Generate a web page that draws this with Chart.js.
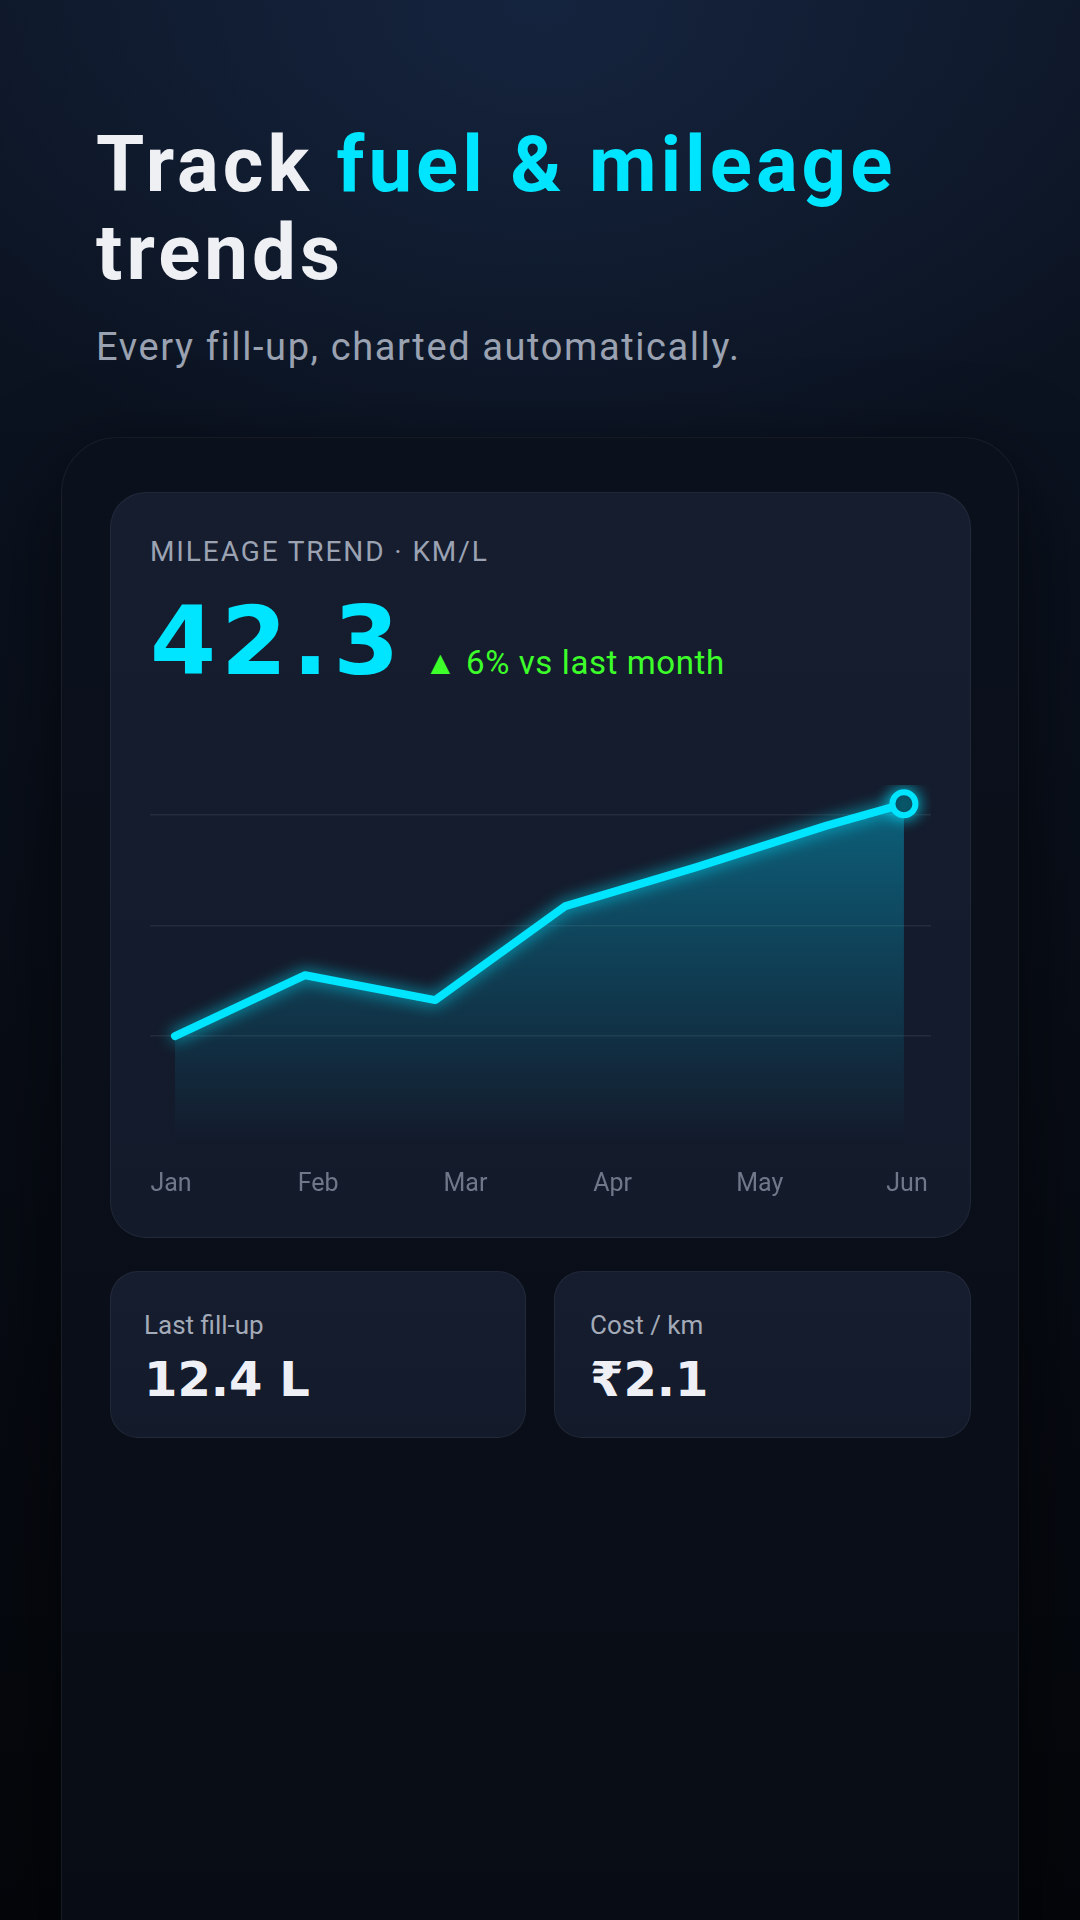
<!DOCTYPE html>
<html>
<head>
<meta charset="utf-8">
<script src="https://cdn.jsdelivr.net/npm/chart.js@4/dist/chart.umd.min.js"></script>
<style>
  html, body { margin: 0; padding: 0; }
  body {
    width: 1080px; height: 1920px; overflow: hidden; position: relative;
    font-family: Roboto, "Noto Sans", sans-serif;
    background:
      radial-gradient(ellipse 700px 520px at 50% 0%, rgba(22,38,66,0.85) 0%, rgba(22,38,66,0) 100%),
      linear-gradient(180deg, #0d1626 0%, #0a111d 30%, #070b13 65%, #04060a 100%);
  }
  .abs { position: absolute; white-space: nowrap; }
  h1 {
    position: absolute; left: 96px; top: 121px; margin: 0;
    font-size: 78px; line-height: 88px; font-weight: 700; color: #eef0f4;
    letter-spacing: 4px;
  }
  h1 span { color: #00e5ff; }
  .sub { left: 96px; top: 324px; font-size: 38px; line-height: 46px; color: #9aa2b1; letter-spacing: 1.6px; }
  .panel {
    position: absolute; left: 61px; top: 437px; width: 956px; height: 1600px;
    border-radius: 56px; border: 1px solid rgba(255,255,255,0.06);
    background: linear-gradient(180deg, #0b111c 0%, #090e18 60%, #080c14 100%);
    box-shadow: 0 30px 90px rgba(0,0,0,0.55);
  }
  .card {
    position: absolute; border-radius: 36px; border: 1px solid rgba(255,255,255,0.06);
    background: linear-gradient(180deg, #161d2f 0%, #131a2a 100%);
    box-sizing: border-box;
  }
  .label { left: 150px; top: 535px; font-size: 28px; line-height: 34px; color: #9ba3b3; letter-spacing: 1.9px; }
  .big { left: 150px; top: 591px; font-family: "DejaVu Sans", sans-serif; font-weight: 700;
         font-size: 95px; line-height: 100px; color: #00e5ff; letter-spacing: 5px; }
  .delta { left: 424px; top: 643px; font-size: 33px; line-height: 40px; color: #3dff2a; letter-spacing: 0.6px; }
  .small-label { font-size: 26px; line-height: 32px; color: #a3aab8; top: 1309px; }
  .small-value { font-family: "DejaVu Sans", sans-serif; font-weight: 700; font-size: 48px;
                 line-height: 56px; color: #eef0f5; top: 1351px; }
  #chartBox { position: absolute; left: 150px; top: 785px; width: 781px; height: 415px; }
</style>
</head>
<body>
<h1>Track <span>fuel &amp; mileage</span><br>trends</h1>
<div class="abs sub">Every fill-up, charted automatically.</div>

<div class="panel"></div>
<div class="card" style="left:110px; top:492px; width:861px; height:746px;"></div>
<div class="abs label">MILEAGE TREND · KM/L</div>
<div class="abs big">42.3</div>
<div class="abs delta">▲ 6% vs last month</div>
<div id="chartBox"><canvas id="mileage"></canvas></div>

<div class="card" style="left:110px; top:1271px; width:416px; height:167px; border-radius:28px;"></div>
<div class="card" style="left:554px; top:1271px; width:417px; height:167px; border-radius:28px;"></div>
<div class="abs small-label" style="left:144px;">Last fill-up</div>
<div class="abs small-value" style="left:144px;">12.4 L</div>
<div class="abs small-label" style="left:590px;">Cost / km</div>
<div class="abs small-value" style="left:590px;">₹2.1</div>

<script>
// Axis labels
let monthLabels = ["Jan", "Feb", "Mar", "Apr", "May", "Jun"];
let monthTicks = [0, 1, 2, 3, 4, 5];

// Fill-ups: position along the trend line and mileage (km/L)
let fillupPos = [0, 50, 100, 150, 200, 250, 280];
let mileageKmpl = [38.0, 39.1, 38.65, 40.35, 41.05, 41.8, 42.2];

// Horizontal guide lines
let gridValues = [38, 40, 42];

// Colors
let cyan = "#00e5ff";
let gridColor = "rgba(255,255,255,0.07)";
let tickColor = "#6f7789";

let points = fillupPos.map((x, i) => ({ x: x, y: mileageKmpl[i] }));
let lastIndex = points.length - 1;

// glow under the line
let glow = {
  id: "glow",
  beforeDatasetDraw(chart, args) {
    if (args.index !== 1) return;
    let ctx = chart.ctx;
    ctx.save();
    ctx.shadowColor = "rgba(0,229,255,0.8)";
    ctx.shadowBlur = 16;
  },
  afterDatasetDraw(chart, args) {
    if (args.index !== 1) return;
    chart.ctx.restore();
  }
};

new Chart(document.getElementById("mileage").getContext("2d"), {
  type: "line",
  data: {
    datasets: [{
      // area under the trend
      data: points,
      xAxisID: "xd",
      fill: "start",
      borderWidth: 0,
      pointRadius: 0,
      order: 2,
      backgroundColor: (c) => {
        let area = c.chart.chartArea;
        if (!area) return "transparent";
        let g = c.chart.ctx.createLinearGradient(0, area.top, 0, area.bottom);
        g.addColorStop(0, "rgba(0,200,240,0.42)");
        g.addColorStop(1, "rgba(0,200,240,0)");
        return g;
      }
    }, {
      // trend line
      data: points,
      xAxisID: "xd",
      fill: false,
      order: 1,
      borderColor: cyan,
      borderWidth: 8,
      borderJoinStyle: "round",
      borderCapStyle: "round",
      tension: 0,
      pointRadius: (c) => c.dataIndex === lastIndex ? 11.5 : 0,
      pointBorderWidth: 6,
      pointBorderColor: cyan,
      pointBackgroundColor: "#0b1220",
      pointHoverRadius: 0
    }]
  },
  options: {
    responsive: true,
    maintainAspectRatio: false,
    animation: false,
    clip: false,
    layout: { padding: 0, autoPadding: false },
    plugins: { legend: { display: false }, tooltip: { enabled: false } },
    scales: {
      x: {
        type: "linear",
        min: -0.1427,
        max: 5.163,
        afterBuildTicks: (scale) => { scale.ticks = monthTicks.map(v => ({ value: v })); },
        afterFit: (scale) => { scale.paddingLeft = 0; scale.paddingRight = 0; scale.height = 55; },
        ticks: {
          color: tickColor,
          padding: 25,
          maxRotation: 0,
          autoSkip: false,
          font: { family: "Roboto", size: 25 },
          callback: (v) => monthLabels[v]
        },
        grid: { display: false, drawTicks: false },
        border: { display: false }
      },
      xd: {
        type: "linear",
        display: false,
        min: -9.6,
        max: 290.4
      },
      y: {
        min: 36.03,
        max: 42.54,
        afterBuildTicks: (scale) => { scale.ticks = gridValues.map(v => ({ value: v })); },
        afterFit: (scale) => { scale.width = 0; scale.paddingTop = 0; scale.paddingBottom = 0; },
        ticks: { display: false },
        grid: { color: gridColor, lineWidth: 1.5, drawTicks: false },
        border: { display: false }
      }
    }
  },
  plugins: [glow]
});
</script>
</body>
</html>
